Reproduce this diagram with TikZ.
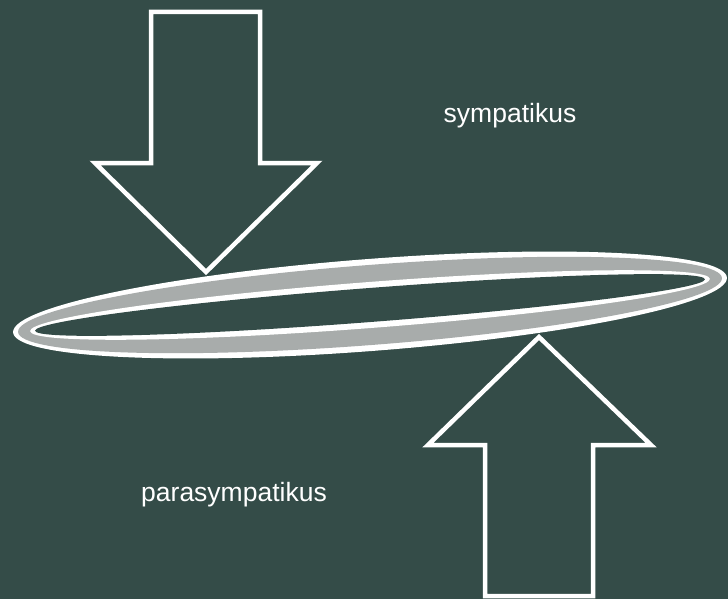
\documentclass[tikz,border=0pt]{standalone}
\usepackage{fontspec}
\setmainfont{Liberation Sans}
\definecolor{bg}{RGB}{52,76,72}
\definecolor{ring}{RGB}{168,172,171}
\begin{document}
\begin{tikzpicture}[x=1pt,y=-1pt,
  arrowshape/.style={draw=white,line width=4.5pt,line join=miter},
  label/.style={text=white,font=\fontsize{26.5}{31}\selectfont,anchor=base,inner sep=0pt}]
\fill[bg] (0,0) rectangle (728,599);
\useasboundingbox (0,0) rectangle (728,599);
% ring
\begin{scope}[shift={(370,305)},rotate=4.4]
\fill[white] (0,0) ellipse [x radius=358pt,y radius=46pt];
\fill[ring] (0,0) ellipse [x radius=353pt,y radius=40pt];
\fill[white] (0,0) ellipse [x radius=341pt,y radius=23pt];
\fill[bg] (0,0) ellipse [x radius=336pt,y radius=17pt];
\end{scope}
% down arrow
\draw[arrowshape] (151,12) -- (260,12) -- (260,163) -- (317,163) -- (206,272) -- (95,163) -- (151,163) -- cycle;
% up arrow
\draw[arrowshape] (485,596) -- (593,596) -- (593,445) -- (651,445) -- (539,337) -- (428,445) -- (485,445) -- cycle;
\node[label] (symp) at (510,123) {sympatikus};
\node[label] (para) at (234,501) {parasympatikus};
\end{tikzpicture}
\end{document}
